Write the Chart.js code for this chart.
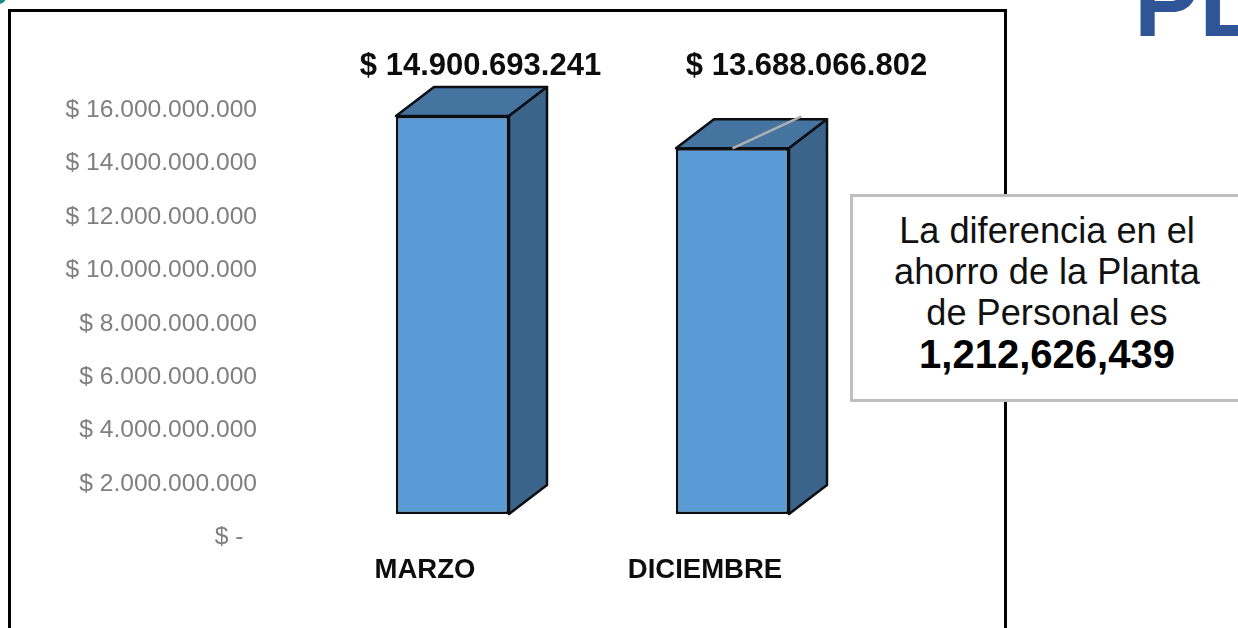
<!DOCTYPE html>
<html lang="es">
<head>
<meta charset="utf-8">
<title>Ahorro de la Planta de Personal</title>
<script src="https://cdn.jsdelivr.net/npm/chart.js@4/dist/chart.umd.min.js"></script>
<style>
  html, body { margin: 0; padding: 0; background: #fff; overflow: hidden; }
  #page { position: relative; width: 1238px; height: 628px; overflow: hidden; font-family: "Liberation Sans", Arial, sans-serif; }
  #frame { position: absolute; left: 8px; top: 9px; width: 993px; height: 640px; border: 3px solid #000; }
  canvas { position: absolute; left: 0; top: 0; }
  #corner { position: absolute; left: -8px; top: -10px; width: 14px; height: 14px; border-radius: 50%; background: #1f8a8c; }
  #heading { position: absolute; left: 1134px; top: -48px; font-weight: 700; font-size: 98px; line-height: 100px; color: #2f5597; white-space: nowrap; }
  #note { position: absolute; left: 850px; top: 194px; width: 440px; height: 202px; border: 3px solid #bfbfbf; background: #fff; box-sizing: content-box; }
  #note div { position: absolute; left: 0; width: 388px; text-align: center; white-space: nowrap; color: #111; font-size: 36.2px; line-height: 41px; }
  #note .amount { font-weight: 700; font-size: 40px; color: #000; }
</style>
</head>
<body>
<div id="page">
  <div id="corner"></div>
  <div id="frame"></div>
  <canvas id="chart" width="1238" height="628"></canvas>
  <div id="heading">PL</div>
  <div id="note">
    <div style="top:13px">La diferencia en el</div>
    <div style="top:54px">ahorro de la Planta</div>
    <div style="top:95px">de Personal es</div>
    <div class="amount" style="top:137px">1,212,626,439</div>
  </div>
</div>
<script>
// Ahorro de la planta de personal: marzo frente a diciembre
const categorias = ['MARZO', 'DICIEMBRE'];
const ahorro = [14900693241, 13688066802];
const etiquetasEjeY = [
  '$ -\u00a0\u00a0',
  '$ 2.000.000.000',
  '$ 4.000.000.000',
  '$ 6.000.000.000',
  '$ 8.000.000.000',
  '$ 10.000.000.000',
  '$ 12.000.000.000',
  '$ 14.000.000.000',
  '$ 16.000.000.000'
];

const formatoPesos = v => '$ ' + String(v).replace(/\B(?=(\d{3})+$)/g, '.');

// Prism faces behind each bar, the gray leader line and the value labels
const DEPTH_X = 38, DEPTH_Y = 29;
const VALUE_LABEL_Y = 66.5;
const VALUE_LABEL_SHIFT = [28, 74];
const EDGE_COLOR = '#0b0f14', EDGE_WIDTH = 2.5;

const prisma = {
  id: 'prisma',
  beforeDatasetsDraw(chart) {
    const { ctx } = chart;
    chart.getDatasetMeta(0).data.forEach(bar => {
      const l = bar.x - bar.width / 2, r = bar.x + bar.width / 2;
      const t = bar.y, b = bar.base;
      ctx.save();
      ctx.lineWidth = EDGE_WIDTH;
      ctx.strokeStyle = EDGE_COLOR;
      ctx.lineJoin = 'round';
      ctx.beginPath();
      ctx.moveTo(l, t);
      ctx.lineTo(l + DEPTH_X, t - DEPTH_Y);
      ctx.lineTo(r + DEPTH_X, t - DEPTH_Y);
      ctx.lineTo(r, t);
      ctx.closePath();
      ctx.fillStyle = '#44749f';
      ctx.fill();
      ctx.stroke();
      ctx.beginPath();
      ctx.moveTo(r, t);
      ctx.lineTo(r + DEPTH_X, t - DEPTH_Y);
      ctx.lineTo(r + DEPTH_X, b - DEPTH_Y);
      ctx.lineTo(r, b);
      ctx.closePath();
      ctx.fillStyle = '#3a6489';
      ctx.fill();
      ctx.stroke();
      ctx.restore();
    });
  },
  afterDatasetsDraw(chart) {
    const { ctx } = chart;
    const barras = chart.getDatasetMeta(0).data;
    ctx.save();
    const lider = barras[1];
    ctx.strokeStyle = '#b0b0b0';
    ctx.lineWidth = 2.5;
    ctx.beginPath();
    ctx.moveTo(lider.x, lider.y);
    ctx.lineTo(lider.x + 69, lider.y - 32);
    ctx.stroke();
    ctx.fillStyle = '#0d0d0d';
    ctx.font = '700 31px "Liberation Sans", Arial, sans-serif';
    ctx.textAlign = 'center';
    ctx.textBaseline = 'middle';
    barras.forEach((bar, i) => {
      ctx.fillText(formatoPesos(ahorro[i]), bar.x + VALUE_LABEL_SHIFT[i], VALUE_LABEL_Y);
    });
    ctx.restore();
  }
};

new Chart(document.getElementById('chart'), {
  type: 'bar',
  data: {
    labels: categorias,
    datasets: [{
      data: ahorro,
      backgroundColor: '#5b9bd5',
      borderColor: EDGE_COLOR,
      borderWidth: EDGE_WIDTH,
      borderSkipped: false,
      barPercentage: 0.4036,
      categoryPercentage: 1,
      clip: false
    }]
  },
  plugins: [prisma],
  options: {
    responsive: false,
    animation: false,
    layout: { padding: { left: 0, top: 86.6, right: 365.5, bottom: 0 } },
    plugins: { legend: { display: false }, tooltip: { enabled: false } },
    scales: {
      x: {
        grid: { display: false, drawTicks: false },
        border: { display: false },
        afterFit(scale) { scale.height = 114; },
        ticks: {
          autoSkip: false,
          maxRotation: 0,
          labelOffset: -27.5,
          padding: 40,
          color: '#0d0d0d',
          font: { family: '"Liberation Sans", Arial, sans-serif', size: 27.5, weight: '700' }
        }
      },
      y: {
        min: 0,
        max: 16000000000,
        grid: { display: false, drawTicks: false },
        border: { display: false },
        afterFit(scale) { scale.width = 312.5; },
        ticks: {
          stepSize: 2000000000,
          labelOffset: 23.5,
          padding: 55.5,
          color: '#7f7f7f',
          callback: (v, i) => etiquetasEjeY[i],
          font: { family: '"Liberation Sans", Arial, sans-serif', size: 24.6 }
        }
      }
    }
  }
});
</script>
</body>
</html>
